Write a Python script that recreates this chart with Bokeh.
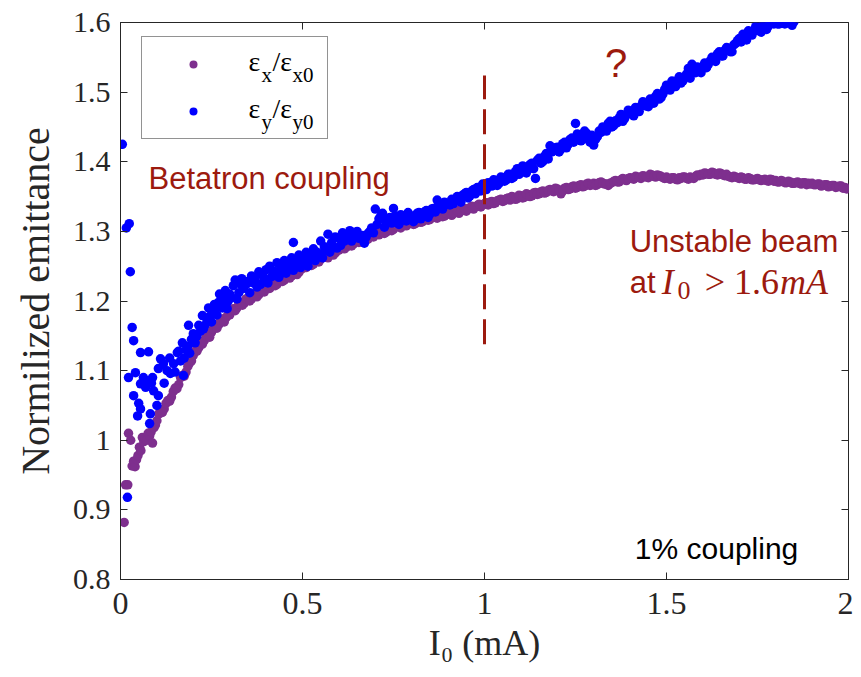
from bokeh.plotting import figure
from bokeh.models import FixedTicker, LinearAxis, Label, Legend, LegendItem, ColumnDataSource
from bokeh.core.properties import value
from bokeh.embed import file_html
from bokeh.resources import INLINE

# ---------------- data ----------------
x_ticks = [0, 0.5, 1, 1.5, 2]
x_tick_labels = ["0", "0.5", "1", "1.5", "2"]
y_ticks = [0.8, 0.9, 1.0, 1.1, 1.2, 1.3, 1.4, 1.5, 1.6]
y_tick_labels = ["0.8", "0.9", "1", "1.1", "1.2", "1.3", "1.4", "1.5", "1.6"]

# eps_x / eps_x0  (purple) -- first pass of readings
ex_current = [
    0.010, 0.014, 0.020, 0.022, 0.028, 0.032, 0.036, 0.040, 0.044, 0.048, 0.052,
    0.056, 0.060, 0.064, 0.068, 0.072, 0.076, 0.080, 0.084, 0.088, 0.092, 0.096,
    0.10, 0.11, 0.12, 0.13, 0.14, 0.15, 0.16, 0.17, 0.18, 0.19,
    0.20, 0.21, 0.22, 0.23, 0.24, 0.25, 0.26, 0.27, 0.28, 0.29,
    0.30, 0.31, 0.32, 0.33, 0.34, 0.35, 0.36, 0.37, 0.38, 0.39,
    0.40, 0.41, 0.42, 0.43, 0.44, 0.45, 0.46, 0.47, 0.48, 0.49,
    0.50, 0.51, 0.52, 0.53, 0.54, 0.55, 0.56, 0.57, 0.58, 0.59,
    0.60, 0.61, 0.62, 0.63, 0.64, 0.65, 0.66, 0.67, 0.68, 0.69,
    0.70, 0.71, 0.72, 0.73, 0.74, 0.75, 0.76, 0.77, 0.78, 0.79,
    0.80, 0.81, 0.82, 0.83, 0.84, 0.85, 0.86, 0.87, 0.88, 0.89,
    0.90, 0.91, 0.92, 0.93, 0.94, 0.95, 0.96, 0.97, 0.98, 0.99,
    1.00, 1.01, 1.02, 1.03, 1.04, 1.05, 1.06, 1.07, 1.08, 1.09,
    1.10, 1.11, 1.12, 1.13, 1.14, 1.15, 1.16, 1.17, 1.18, 1.19,
    1.20, 1.21, 1.22, 1.23, 1.24, 1.25, 1.26, 1.27, 1.28, 1.29,
    1.30, 1.31, 1.32, 1.33, 1.34, 1.35, 1.36, 1.37, 1.38, 1.39,
    1.40, 1.41, 1.42, 1.43, 1.44, 1.45, 1.46, 1.47, 1.48, 1.49,
    1.50, 1.51, 1.52, 1.53, 1.54, 1.55, 1.56, 1.57, 1.58, 1.59,
    1.60, 1.61, 1.62, 1.63, 1.64, 1.65, 1.66, 1.67, 1.68, 1.69,
    1.70, 1.71, 1.72, 1.73, 1.74, 1.75, 1.76, 1.77, 1.78, 1.79,
    1.80, 1.81, 1.82, 1.83, 1.84, 1.85, 1.86, 1.87, 1.88, 1.89,
    1.90, 1.91, 1.92, 1.93, 1.94, 1.95, 1.96, 1.97, 1.98, 1.99, 2.00,
]
ex_ratio = [
    0.882, 0.936, 0.936, 1.010, 1.000, 0.963, 0.970, 0.962, 0.972, 0.978, 0.990,
    0.985, 1.004, 0.998, 1.002, 1.000, 1.010, 1.006, 1.012, 0.996, 1.018, 1.022,
    1.028, 1.041, 1.045, 1.057, 1.062, 1.075, 1.080, 1.093, 1.098, 1.111,
    1.122, 1.128, 1.141, 1.143, 1.154, 1.155, 1.165, 1.166, 1.174, 1.176,
    1.180, 1.189, 1.190, 1.198, 1.197, 1.204, 1.203, 1.210, 1.209, 1.216,
    1.219, 1.218, 1.225, 1.224, 1.231, 1.230, 1.237, 1.236, 1.242, 1.241,
    1.247, 1.248, 1.254, 1.253, 1.259, 1.260, 1.265, 1.262, 1.270, 1.269,
    1.273, 1.278, 1.277, 1.283, 1.282, 1.287, 1.285, 1.291, 1.289, 1.294,
    1.296, 1.295, 1.301, 1.299, 1.305, 1.303, 1.308, 1.305, 1.311, 1.310,
    1.313, 1.311, 1.317, 1.314, 1.319, 1.317, 1.322, 1.319, 1.324, 1.322,
    1.325, 1.323, 1.328, 1.326, 1.331, 1.329, 1.334, 1.332, 1.337, 1.335,
    1.340, 1.338, 1.343, 1.341, 1.345, 1.343, 1.347, 1.345, 1.349, 1.347,
    1.351, 1.349, 1.353, 1.351, 1.356, 1.354, 1.358, 1.356, 1.360, 1.357,
    1.361, 1.354, 1.362, 1.360, 1.364, 1.362, 1.366, 1.364, 1.368, 1.366,
    1.369, 1.367, 1.371, 1.368, 1.366, 1.370, 1.373, 1.371, 1.376, 1.373,
    1.377, 1.375, 1.378, 1.376, 1.379, 1.377, 1.381, 1.378, 1.380, 1.377,
    1.378, 1.375, 1.377, 1.374, 1.376, 1.378, 1.375, 1.377, 1.379, 1.380,
    1.381, 1.383, 1.382, 1.384, 1.381, 1.383, 1.380, 1.379, 1.377, 1.378,
    1.376, 1.377, 1.375, 1.376, 1.374, 1.376, 1.373, 1.375, 1.372, 1.374,
    1.373, 1.371, 1.372, 1.370, 1.371, 1.369, 1.371, 1.368, 1.370, 1.369,
    1.369, 1.367, 1.368, 1.366, 1.367, 1.365, 1.366, 1.364, 1.365, 1.363, 1.362,
]
# eps_x / eps_x0  (purple) -- interleaved readings
ex_current_b = [
    0.105, 0.115, 0.125, 0.135, 0.145, 0.155, 0.165, 0.175, 0.185, 0.195,
    0.205, 0.215, 0.225, 0.235, 0.245, 0.255, 0.265, 0.275, 0.285, 0.295,
    0.305, 0.315, 0.325, 0.335, 0.345, 0.355, 0.365, 0.375, 0.385, 0.395,
    0.405, 0.415, 0.425, 0.435, 0.445, 0.455, 0.465, 0.475, 0.485, 0.495,
    0.505, 0.515, 0.525, 0.535, 0.545, 0.555, 0.565, 0.575, 0.585, 0.595,
    0.605, 0.615, 0.625, 0.635, 0.645, 0.655, 0.665, 0.675, 0.685, 0.695,
    0.705, 0.715, 0.725, 0.735, 0.745, 0.755, 0.765, 0.775, 0.785, 0.795,
    0.805, 0.815, 0.825, 0.835, 0.845, 0.855, 0.865, 0.875, 0.885, 0.895,
    0.905, 0.915, 0.925, 0.935, 0.945, 0.955, 0.965, 0.975, 0.985, 0.995,
    1.005, 1.015, 1.025, 1.035, 1.045, 1.055, 1.065, 1.075, 1.085, 1.095,
    1.105, 1.115, 1.125, 1.135, 1.145, 1.155, 1.165, 1.175, 1.185, 1.195,
    1.205, 1.215, 1.225, 1.235, 1.245, 1.255, 1.265, 1.275, 1.285, 1.295,
    1.305, 1.315, 1.325, 1.335, 1.345, 1.355, 1.365, 1.375, 1.385, 1.395,
    1.405, 1.415, 1.425, 1.435, 1.445, 1.455, 1.465, 1.475, 1.485, 1.495,
    1.505, 1.515, 1.525, 1.535, 1.545, 1.555, 1.565, 1.575, 1.585, 1.595,
    1.605, 1.615, 1.625, 1.635, 1.645, 1.655, 1.665, 1.675, 1.685, 1.695,
    1.705, 1.715, 1.725, 1.735, 1.745, 1.755, 1.765, 1.775, 1.785, 1.795,
    1.805, 1.815, 1.825, 1.835, 1.845, 1.855, 1.865, 1.875, 1.885, 1.895,
    1.905, 1.915, 1.925, 1.935, 1.945, 1.955, 1.965, 1.975, 1.985, 1.995,
]
ex_ratio_b = [
    1.038, 1.040, 1.053, 1.056, 1.070, 1.074, 1.090, 1.092, 1.106, 1.114,
    1.128, 1.133, 1.138, 1.150, 1.148, 1.160, 1.161, 1.172, 1.170, 1.180,
    1.186, 1.186, 1.196, 1.194, 1.203, 1.200, 1.208, 1.206, 1.214, 1.213,
    1.221, 1.223, 1.222, 1.229, 1.228, 1.235, 1.233, 1.240, 1.238, 1.245,
    1.250, 1.252, 1.251, 1.257, 1.256, 1.263, 1.266, 1.267, 1.266, 1.273,
    1.276, 1.275, 1.281, 1.279, 1.286, 1.284, 1.289, 1.288, 1.293, 1.292,
    1.298, 1.299, 1.297, 1.303, 1.301, 1.306, 1.307, 1.309, 1.308, 1.313,
    1.310, 1.315, 1.313, 1.318, 1.316, 1.321, 1.320, 1.323, 1.321, 1.326,
    1.327, 1.326, 1.330, 1.329, 1.333, 1.332, 1.336, 1.335, 1.339, 1.338,
    1.341, 1.342, 1.340, 1.344, 1.346, 1.344, 1.348, 1.350, 1.346, 1.352,
    1.348, 1.354, 1.350, 1.355, 1.353, 1.357, 1.355, 1.359, 1.358, 1.362,
    1.359, 1.358, 1.363, 1.361, 1.365, 1.363, 1.367, 1.365, 1.369, 1.367,
    1.366, 1.370, 1.369, 1.368, 1.369, 1.372, 1.371, 1.374, 1.374, 1.376,
    1.376, 1.379, 1.377, 1.380, 1.378, 1.382, 1.379, 1.381, 1.379, 1.376,
    1.376, 1.377, 1.375, 1.377, 1.378, 1.376, 1.378, 1.376, 1.381, 1.382,
    1.384, 1.382, 1.385, 1.382, 1.384, 1.381, 1.382, 1.378, 1.379, 1.377,
    1.378, 1.375, 1.377, 1.374, 1.375, 1.374, 1.374, 1.373, 1.375, 1.372,
    1.371, 1.373, 1.370, 1.372, 1.369, 1.370, 1.369, 1.370, 1.367, 1.368,
    1.367, 1.368, 1.365, 1.367, 1.364, 1.366, 1.363, 1.365, 1.362, 1.361,
]

# eps_y / eps_y0  (blue) -- first pass of readings
ey_current = [
    0.005, 0.016, 0.024, 0.027, 0.019, 0.032, 0.036, 0.022, 0.041, 0.055, 0.077,
    0.063, 0.088, 0.055, 0.036, 0.050, 0.055, 0.047, 0.082, 0.080, 0.069, 0.091,
    0.072, 0.085,
    0.100, 0.104, 0.104, 0.110, 0.118, 0.128, 0.137, 0.146, 0.156, 0.165, 0.170,
    0.173, 0.180, 0.187, 0.195, 0.200, 0.210, 0.220, 0.225, 0.232, 0.238, 0.245,
    0.255, 0.262, 0.269, 0.276, 0.283, 0.293, 0.300, 0.310, 0.320, 0.328, 0.338,
    0.348,
    0.120, 0.135, 0.150, 0.160, 0.175, 0.185, 0.190, 0.205, 0.215, 0.228, 0.242,
    0.250, 0.258, 0.265, 0.272, 0.280, 0.288, 0.296, 0.305, 0.315, 0.325, 0.333,
    0.343, 0.475,
    0.35, 0.36, 0.37, 0.38, 0.39,
    0.40, 0.41, 0.42, 0.43, 0.44, 0.45, 0.46, 0.47, 0.48, 0.49,
    0.50, 0.51, 0.52, 0.53, 0.54, 0.55, 0.56, 0.57, 0.58, 0.59,
    0.60, 0.61, 0.62, 0.63, 0.64, 0.65, 0.66, 0.67, 0.68, 0.69,
    0.70, 0.71, 0.72, 0.73, 0.74, 0.75, 0.76, 0.77, 0.78, 0.79,
    0.80, 0.81, 0.82, 0.83, 0.84, 0.85, 0.86, 0.87, 0.88, 0.89,
    0.90, 0.91, 0.92, 0.93, 0.94, 0.95, 0.96, 0.97, 0.98, 0.99,
    1.00, 1.01, 1.02, 1.03, 1.04, 1.05, 1.06, 1.07, 1.08, 1.09,
    1.10, 1.11, 1.12, 1.13, 1.14, 1.15, 1.16, 1.17, 1.18, 1.19,
    1.20, 1.21, 1.22, 1.23, 1.24, 1.25, 1.26, 1.27, 1.28, 1.29,
    1.30, 1.31, 1.32, 1.33, 1.34, 1.35, 1.36, 1.37, 1.38, 1.39,
    1.40, 1.41, 1.42, 1.43, 1.44, 1.45, 1.46, 1.47, 1.48, 1.49,
    1.50, 1.51, 1.52, 1.53, 1.54, 1.55, 1.56, 1.57, 1.58, 1.59,
    1.60, 1.61, 1.62, 1.63, 1.64, 1.65, 1.66, 1.67, 1.68, 1.69,
    1.70, 1.71, 1.72, 1.73, 1.74, 1.75, 1.76, 1.77, 1.78, 1.79,
    1.80, 1.81, 1.82, 1.83, 1.84, 1.85,
]
ey_ratio = [
    1.425, 1.305, 1.311, 1.242, 0.918, 1.162, 1.143, 1.090, 1.097, 1.126, 1.127,
    1.090, 1.090, 1.081, 1.064, 1.053, 1.045, 1.035, 1.038, 1.024, 1.076, 1.071,
    1.085, 1.082,
    1.050, 1.064, 1.103, 1.117, 1.110, 1.100, 1.096, 1.110, 1.126, 1.114, 1.140,
    1.093, 1.130, 1.165, 1.145, 1.153, 1.150, 1.157, 1.179, 1.165, 1.172, 1.178,
    1.182, 1.190, 1.198, 1.195, 1.205, 1.189, 1.210, 1.222, 1.203, 1.225, 1.218,
    1.225,
    1.082, 1.118, 1.098, 1.128, 1.118, 1.135, 1.125, 1.140, 1.165, 1.160, 1.190,
    1.170, 1.195, 1.180, 1.210, 1.190, 1.215, 1.200, 1.205, 1.230, 1.212, 1.232,
    1.228, 1.284,
    1.228, 1.236, 1.232, 1.242, 1.238,
    1.245, 1.250, 1.243, 1.255, 1.249, 1.258, 1.252, 1.262, 1.257, 1.266,
    1.262, 1.270, 1.266, 1.275, 1.270, 1.286, 1.278, 1.296, 1.284, 1.292,
    1.290, 1.298, 1.293, 1.301, 1.296, 1.300, 1.292, 1.283, 1.297, 1.305,
    1.332, 1.318, 1.326, 1.312, 1.320, 1.333, 1.316, 1.324, 1.318, 1.327,
    1.322, 1.318, 1.327, 1.321, 1.330, 1.325, 1.333, 1.345, 1.338, 1.342,
    1.340, 1.346, 1.344, 1.349, 1.352, 1.356, 1.351, 1.360, 1.363, 1.358,
    1.366, 1.370, 1.365, 1.373, 1.369, 1.377, 1.374, 1.382, 1.378, 1.390,
    1.386, 1.392, 1.389, 1.398, 1.376, 1.405, 1.400, 1.412, 1.423, 1.416,
    1.421, 1.418, 1.428, 1.425, 1.434, 1.455, 1.438, 1.432, 1.441, 1.428,
    1.424, 1.436, 1.442, 1.448, 1.455, 1.450, 1.459, 1.463, 1.458, 1.468,
    1.472, 1.466, 1.475, 1.480, 1.484, 1.479, 1.488, 1.494, 1.490, 1.497,
    1.510, 1.503, 1.512, 1.517, 1.513, 1.521, 1.534, 1.540, 1.528, 1.532,
    1.537, 1.535, 1.545, 1.548, 1.555, 1.552, 1.560, 1.563, 1.558, 1.570,
    1.577, 1.583, 1.575, 1.584, 1.588, 1.592, 1.586, 1.598, 1.595, 1.600,
    1.603, 1.598, 1.600, 1.602, 1.600, 1.601,
]
# eps_y / eps_y0  (blue) -- interleaved readings
ey_current_b = [
    0.355, 0.365, 0.375, 0.385, 0.395,
    0.405, 0.415, 0.425, 0.435, 0.445, 0.455, 0.465, 0.475, 0.485, 0.495,
    0.505, 0.515, 0.525, 0.535, 0.545, 0.555, 0.565, 0.575, 0.585, 0.595,
    0.605, 0.615, 0.625, 0.635, 0.645, 0.655, 0.665, 0.675, 0.685, 0.695,
    0.705, 0.715, 0.725, 0.735, 0.745, 0.755, 0.765, 0.775, 0.785, 0.795,
    0.805, 0.815, 0.825, 0.835, 0.845, 0.855, 0.865, 0.875, 0.885, 0.895,
    0.905, 0.915, 0.925, 0.935, 0.945, 0.955, 0.965, 0.975, 0.985, 0.995,
    1.005, 1.015, 1.025, 1.035, 1.045, 1.055, 1.065, 1.075, 1.085, 1.095,
    1.105, 1.115, 1.125, 1.135, 1.145, 1.155, 1.165, 1.175, 1.185, 1.195,
    1.205, 1.215, 1.225, 1.235, 1.245, 1.255, 1.265, 1.275, 1.285, 1.295,
    1.305, 1.315, 1.325, 1.335, 1.345, 1.355, 1.365, 1.375, 1.385, 1.395,
    1.405, 1.415, 1.425, 1.435, 1.445, 1.455, 1.465, 1.475, 1.485, 1.495,
    1.505, 1.515, 1.525, 1.535, 1.545, 1.555, 1.565, 1.575, 1.585, 1.595,
    1.605, 1.615, 1.625, 1.635, 1.645, 1.655, 1.665, 1.675, 1.685, 1.695,
    1.705, 1.715, 1.725, 1.735, 1.745, 1.755, 1.765, 1.775, 1.785, 1.795,
    1.805, 1.815, 1.825, 1.835, 1.845,
]
ey_ratio_b = [
    1.212, 1.226, 1.220, 1.224, 1.232,
    1.226, 1.235, 1.240, 1.234, 1.244, 1.240, 1.249, 1.244, 1.254, 1.248,
    1.256, 1.250, 1.260, 1.258, 1.268, 1.262, 1.273, 1.270, 1.278, 1.276,
    1.280, 1.286, 1.290, 1.286, 1.294, 1.290, 1.294, 1.292, 1.300, 1.298,
    1.310, 1.322, 1.306, 1.318, 1.312, 1.322, 1.310, 1.320, 1.315, 1.318,
    1.314, 1.326, 1.318, 1.328, 1.320, 1.332, 1.328, 1.336, 1.332, 1.340,
    1.338, 1.340, 1.350, 1.342, 1.354, 1.348, 1.358, 1.354, 1.362, 1.368,
    1.360, 1.366, 1.374, 1.366, 1.378, 1.372, 1.382, 1.376, 1.386, 1.382,
    1.394, 1.384, 1.396, 1.390, 1.402, 1.398, 1.408, 1.404, 1.414, 1.420,
    1.414, 1.426, 1.420, 1.432, 1.428, 1.440, 1.430, 1.444, 1.436, 1.438,
    1.432, 1.444, 1.450, 1.444, 1.458, 1.452, 1.456, 1.468, 1.462, 1.474,
    1.468, 1.478, 1.472, 1.486, 1.480, 1.490, 1.484, 1.498, 1.492, 1.504,
    1.506, 1.516, 1.508, 1.522, 1.516, 1.526, 1.520, 1.530, 1.536, 1.528,
    1.542, 1.540, 1.550, 1.544, 1.558, 1.552, 1.564, 1.558, 1.568, 1.574,
    1.572, 1.580, 1.588, 1.582, 1.594, 1.588, 1.598, 1.590, 1.600, 1.598,
    1.598, 1.602, 1.598, 1.600, 1.596,
]

threshold_current = [1.0, 1.0]
threshold_span = [1.138, 1.524]

# ---------------- styles ----------------
PURPLE = "#7E2F8E"
BLUE = "#0000FF"
DARKRED = "#9C1A0E"
AXIS = "#262626"
SERIF = "Liberation Serif"
SANS = "Liberation Sans"

p = figure(width=853, height=669, x_range=(0, 2), y_range=(0.8, 1.6),
           output_backend="svg", toolbar_location=None,
           min_border_left=120, min_border_top=22, min_border_right=5,
           min_border_bottom=90)
p.background_fill_color = "white"
p.border_fill_color = "white"
p.outline_line_color = AXIS
p.outline_line_width = 1
p.xgrid.visible = False
p.ygrid.visible = False

def style_axis(ax, ticks):
    ax.ticker = FixedTicker(ticks=ticks)
    ax.axis_line_color = AXIS
    ax.major_tick_line_color = AXIS
    ax.major_tick_in = 7
    ax.major_tick_out = 0
    ax.minor_tick_in = 0
    ax.minor_tick_out = 0
    ax.minor_tick_line_color = None
    ax.major_label_text_font = SERIF
    ax.major_label_text_color = AXIS

xa = p.xaxis[0]
style_axis(xa, x_ticks)
xa.major_label_overrides = dict(zip(x_ticks, x_tick_labels))
xa.major_label_text_font_size = "32px"
xa.major_label_standoff = 13
xa.axis_label = "I\u2080 (mA)"
xa.axis_label_text_font = SERIF
xa.axis_label_text_font_style = "normal"
xa.axis_label_text_font_size = "36px"
xa.axis_label_text_color = AXIS
xa.axis_label_standoff = 6

ya = p.yaxis[0]
style_axis(ya, y_ticks)
ya.major_label_overrides = dict(zip(y_ticks, y_tick_labels))
ya.major_label_text_font_size = "30px"
ya.major_label_standoff = 10
ya.axis_label = "Normilized emittance"
ya.axis_label_text_font = SERIF
ya.axis_label_text_font_style = "normal"
ya.axis_label_text_font_size = "40px"
ya.axis_label_text_color = AXIS
ya.axis_label_standoff = 12

for side, ticks in (("above", x_ticks), ("right", y_ticks)):
    ax = LinearAxis()
    style_axis(ax, ticks)
    ax.axis_line_color = None
    ax.major_label_text_color = None
    ax.major_label_text_font_size = "1px"
    ax.major_label_standoff = 0
    p.add_layout(ax, side)

src_x = ColumnDataSource(dict(i=ex_current + ex_current_b, e=ex_ratio + ex_ratio_b))
src_y = ColumnDataSource(dict(i=ey_current + ey_current_b, e=ey_ratio + ey_ratio_b))
r_x = p.scatter("i", "e", source=src_x, size=9.5, color=PURPLE, line_color=None)
r_y = p.scatter("i", "e", source=src_y, size=9.5, color=BLUE, line_color=None)

p.line(threshold_current, threshold_span, line_color=DARKRED, line_width=3,
       line_dash="25 10")

legend = Legend(items=[LegendItem(label=value(" "), renderers=[r_x]),
                       LegendItem(label=value(" "), renderers=[r_y])],
                location=(21, 440), padding=17, spacing=27, glyph_width=68,
                glyph_height=20, label_standoff=0, label_width=83,
                label_height=20, label_text_font_size="10px",
                border_line_color=AXIS, border_line_width=1,
                background_fill_alpha=0, margin=0)
p.add_layout(legend)

def add_screen(text, sx, sy, size, font=SERIF, style="normal", color=AXIS):
    p.add_layout(Label(x=sx, y=sy, x_units="screen", y_units="screen", text=text,
                       text_font=font, text_font_size=size, text_font_style=style,
                       text_color=color, text_baseline="alphabetic", text_align="left",
                       level="overlay"))

def add_data(text, x, y, size, font=SANS, style="normal", color=DARKRED):
    p.add_layout(Label(x=x, y=y, text=text, text_font=font, text_font_size=size,
                       text_font_style=style, text_color=color,
                       text_baseline="alphabetic", text_align="left"))

# legend texts
add_screen("\u03b5", 128, 518, "28px", color="black")
add_screen("x", 141, 505, "21px", color="black")
add_screen("/\u03b5", 152, 518, "28px", color="black")
add_screen("x0", 172, 505, "21px", color="black")
add_screen("\u03b5", 128, 471, "28px", color="black")
add_screen("y", 141, 458, "21px", color="black")
add_screen("/\u03b5", 152, 471, "28px", color="black")
add_screen("y0", 172, 458, "21px", color="black")

# annotations
add_data("Betatron coupling", 0.077, 1.376, "31px")
add_data("?", 1.331, 1.542, "40px")
add_data("Unstable beam", 1.399, 1.2855, "31px")
add_data("at", 1.399, 1.2266, "31px")
add_data("I", 1.487, 1.2266, "36px", font=SERIF, style="italic")
add_data("0", 1.530, 1.215, "26px", font=SERIF)
add_data("> 1.6", 1.605, 1.2266, "36px", font=SERIF)
add_data("mA", 1.812, 1.2266, "36px", font=SERIF, style="italic")
add_data("1% coupling", 1.413, 0.845, "30px", color="black")

open("out.html", "w").write(file_html(p, INLINE))
